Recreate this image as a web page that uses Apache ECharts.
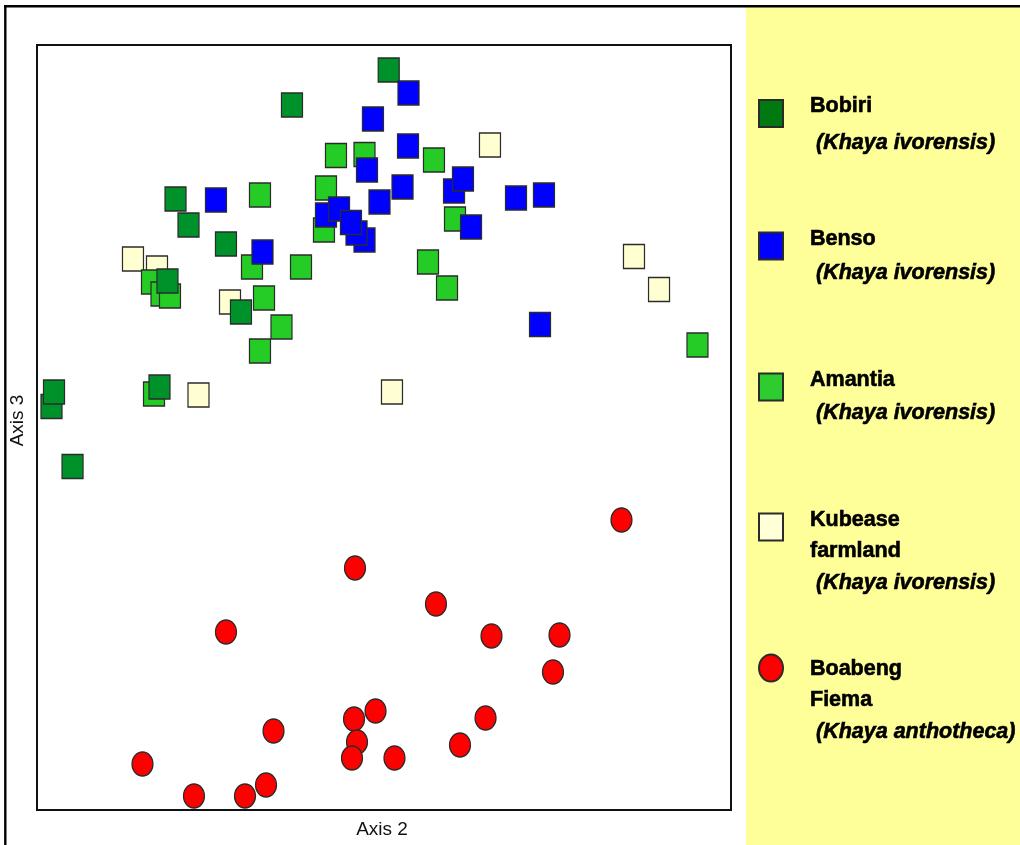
<!DOCTYPE html>
<html>
<head>
<meta charset="utf-8">
<script src="https://cdn.jsdelivr.net/npm/echarts@6/dist/echarts.min.js"></script>
<style>
  html, body { margin: 0; padding: 0; background: #ffffff; }
  #chart { width: 1020px; height: 845px; }
</style>
</head>
<body>
<div id="chart"></div>
<script>
// Ordination scores (Axis 2, Axis 3) for each sampled population, scaled 0-100
const groupNames = ['Bobiri', 'Benso', 'Amantia', 'Kubease farmland', 'Boabeng Fiema'];
const groupNameLines = [['Bobiri'], ['Benso'], ['Amantia'], ['Kubease', 'farmland'], ['Boabeng', 'Fiema']];
const speciesNames = ['Khaya ivorensis', 'Khaya ivorensis', 'Khaya ivorensis', 'Khaya ivorensis', 'Khaya anthotheca'];
const axisTitles = ['Axis 2', 'Axis 3'];

const bobiri = [
  [2.09, 52.75], [2.45, 54.64], [50.68, 96.73], [36.74, 92.16], [19.96, 79.87], [21.83, 76.47],
  [27.23, 73.99], [18.80, 69.15], [29.39, 65.10], [17.65, 55.29], [5.12, 44.90]
];
const benso = [
  [53.53, 93.73], [48.41, 90.33], [53.46, 86.80], [47.55, 83.66], [52.67, 81.44], [49.35, 79.48],
  [25.79, 79.74], [32.49, 72.94], [41.64, 77.78], [43.52, 78.56], [47.19, 74.51], [46.04, 75.42],
  [45.24, 76.80], [60.09, 80.92], [61.38, 82.48], [62.54, 76.21], [69.02, 80.00], [73.05, 80.39],
  [72.48, 63.46]
];
const amantia = [
  [43.08, 85.56], [47.19, 85.69], [57.20, 84.97], [41.64, 81.31], [32.13, 80.39], [41.35, 75.82],
  [60.23, 77.25], [30.98, 70.98], [38.04, 70.98], [56.34, 71.63], [59.08, 68.24], [16.57, 69.02],
  [17.94, 67.45], [19.16, 67.19], [32.71, 66.93], [35.23, 63.14], [32.13, 60.00], [16.86, 54.38],
  [95.17, 60.78]
];
const kubease = [
  [65.27, 86.93], [13.83, 72.03], [17.29, 70.85], [27.81, 66.41], [23.27, 54.25], [51.15, 54.64],
  [86.02, 72.35], [89.63, 68.04]
];
const boabeng = [
  [84.22, 37.91], [45.82, 31.63], [57.49, 26.93], [27.23, 23.27], [65.49, 22.75], [75.29, 22.88],
  [74.35, 18.04], [48.78, 12.94], [45.68, 11.90], [64.63, 12.03], [34.08, 10.33], [46.11, 8.89],
  [60.95, 8.50], [15.20, 6.01], [45.39, 6.80], [51.51, 6.80], [33.00, 3.27], [22.62, 1.83],
  [29.97, 1.83]
];

const FONT = '"Liberation Sans", Arial, Helvetica, sans-serif';
const ELLIPSE = 'path://M0,50 A50,50 0 1,1 100,50 A50,50 0 1,1 0,50 Z';

// Series styling, in the same order as groupNames
const seriesData = [bobiri, benso, amantia, kubease, boabeng];
const fills = ['#00922A', '#0000FF', '#26CC26', '#FFFFD2', '#FF0000'];
const legendFills = ['#007A10', '#0000FF', '#2ECC2E', '#FFFFD8', '#FF0000'];
const symbols = ['rect', 'rect', 'rect', 'rect', ELLIPSE];
const drawOrder = [3, 2, 0, 1, 4];

// Legend placement: icon centre, first text line centre, line spacing
const legendLayout = [
  { icon: 113.5, first: 106, step: 37 },
  { icon: 246, first: 239, step: 34 },
  { icon: 387, first: 380, step: 33 },
  { icon: 527, first: 520, step: 31.5 },
  { icon: 668, first: 669, step: 31.5 }
];

const series = drawOrder.map(function (i) {
  return {
    name: groupNames[i],
    type: 'scatter',
    data: seriesData[i],
    symbol: symbols[i],
    symbolSize: [21, 24],
    symbolKeepAspect: false,
    clip: false,
    itemStyle: { color: fills[i], borderColor: '#2b2b2b', borderWidth: 1.3, opacity: 1 },
    emphasis: { disabled: true },
    z: 3
  };
});

const legendText = {
  fontFamily: FONT, fontWeight: 'bold', fontSize: 21.5, color: '#000',
  textBorderColor: '#000', textBorderWidth: 0.6
};

const legends = groupNames.map(function (name, i) {
  const L = legendLayout[i];
  const nLines = groupNameLines[i].length + 1;
  const textCenter = L.first + (nLines - 1) * L.step / 2;
  const shift = textCenter - L.icon;
  const padTop = shift > 0 ? 2 * shift : 0;
  const padBottom = shift < 0 ? -2 * shift : 0;
  const boxH = padTop + padBottom + nLines * L.step;
  return {
    show: true,
    orient: 'vertical',
    left: 758,
    top: L.icon - boxH / 2,
    padding: 0,
    itemWidth: 24,
    itemHeight: 27,
    symbolKeepAspect: false,
    selectedMode: false,
    data: [{ name: name, icon: symbols[i], itemStyle: { color: legendFills[i] } }],
    formatter: function () {
      return groupNameLines[i].map(function (t) { return '{n|' + t + '}'; }).join('\n') +
        '\n{s| (' + speciesNames[i] + ')}';
    },
    textStyle: {
      padding: [padTop, 0, padBottom, 22],
      lineHeight: L.step,
      rich: {
        n: Object.assign({ lineHeight: L.step }, legendText),
        s: Object.assign({ lineHeight: L.step, fontStyle: 'italic' }, legendText)
      }
    },
    z: 5
  };
});

const chart = echarts.init(document.getElementById('chart'), null, { renderer: 'canvas' });
chart.setOption({
  animation: false,
  backgroundColor: '#ffffff',
  grid: {
    left: 37, right: 289, top: 45, bottom: 35,
    show: true, borderColor: '#111111', borderWidth: 2, backgroundColor: 'transparent'
  },
  xAxis: {
    type: 'value', min: 0, max: 100,
    name: axisTitles[0], nameLocation: 'middle', nameGap: 10,
    nameTextStyle: { fontFamily: FONT, fontSize: 19, color: '#111', padding: [0, 4, 0, 0] },
    axisLine: { show: false }, axisTick: { show: false }, axisLabel: { show: false }, splitLine: { show: false }
  },
  yAxis: {
    type: 'value', min: 0, max: 100,
    name: axisTitles[1], nameLocation: 'middle', nameGap: 10,
    nameTextStyle: { fontFamily: FONT, fontSize: 19, color: '#111', padding: [0, 0, 0, 14] },
    axisLine: { show: false }, axisTick: { show: false }, axisLabel: { show: false }, splitLine: { show: false }
  },
  legend: legends,
  graphic: [
    { type: 'rect', shape: { x: 746, y: 7, width: 274, height: 838 }, style: { fill: '#FFFF99' }, z: -10, silent: true },
    { type: 'line', shape: { x1: 4, y1: 6.2, x2: 1020, y2: 6.2 }, style: { stroke: '#000', lineWidth: 2.4 }, z: -5, silent: true },
    { type: 'line', shape: { x1: 5.3, y1: 5, x2: 5.3, y2: 845 }, style: { stroke: '#000', lineWidth: 2.4 }, z: -5, silent: true }
  ],
  series: series
});
</script>
</body>
</html>
